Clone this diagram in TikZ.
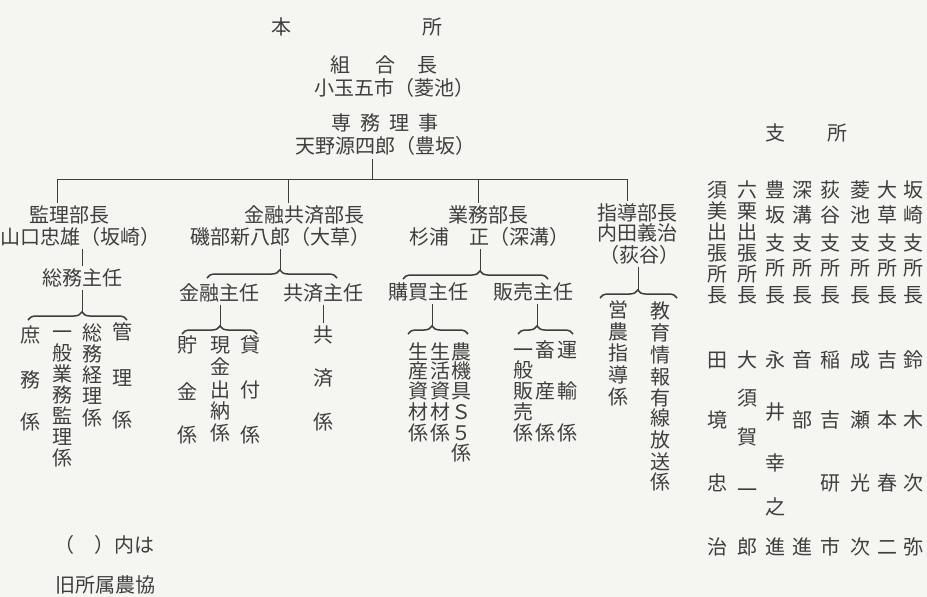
\documentclass[tikz,border=0pt]{standalone}
\usepackage{fontspec}
\newfontfamily\jp{Noto Sans CJK JP}
\usetikzlibrary{decorations.pathreplacing}
\definecolor{paper}{RGB}{245,245,242}
\definecolor{ink}{RGB}{62,62,62}
\newcommand\vcol[3]{\foreach \ch/\yy [count=\i] in {#3} {\node[txt] (#1-\i) at (#2,\yy) {\ch};}}
\begin{document}
\begin{tikzpicture}[x=1pt,y=-1pt,
  txt/.style={font={\jp\fontsize{20}{22}\selectfont}, text=ink, inner sep=0pt, text height=17.6pt, text depth=2.4pt},
  ln/.style={draw=ink, line width=0.8pt},
  bus/.style={draw=ink, line width=0.6pt},
  brc/.style={draw=ink, line width=1.5pt, decorate, decoration={brace, amplitude=8pt, aspect=#1}}]
\fill[paper] (0,0) rectangle (927,597);
\useasboundingbox (0,0) rectangle (927,597);

% ---- head office ----
\node[txt] (honsho) at (357,27) {本\hspace{131pt}所};
\node[txt] (kumiai) at (384,65) {組\hspace{25pt}合\hspace{22pt}長};
\node[txt] (kodama) at (394,88) {小玉五市（菱池）};
\node[txt] (senmu) at (385,123) {専\hspace{9pt}務\hspace{9pt}理\hspace{9pt}事};
\node[txt] (amano) at (385,146) {天野源四郎（豊坂）};

\coordinate (busT) at (372,179);
\coordinate (busL) at (57,179);
\coordinate (bus2) at (288,179);
\coordinate (bus3) at (478,179);
\coordinate (busR) at (627,179);
\draw[ln, shorten <=3pt] (busT |- amano.south) -- (busT);
\draw[bus] (busL) -- (busR);

% ---- departments ----
\node[txt] (d1) at (69,215) {監理部長};
\node[txt] (n1) at (81,237) {山口忠雄（坂崎）};
\node[txt] (d2) at (304,215) {金融共済部長};
\node[txt] (n2) at (280,237) {磯部新八郎（大草）};
\node[txt] (d3) at (488,215) {業務部長};
\node[txt] (n3) at (489,237) {杉浦　正（深溝）};
\node[txt] (d4) at (637,213) {指導部長};
\node[txt] (n4a) at (637,233) {内田義治};
\node[txt] (n4b) at (639,255) {（荻谷）};

\draw[ln, shorten >=2pt] (busL) -- (busL |- d1.north);
\draw[ln, shorten >=2pt] (bus2) -- (bus2 |- d2.north);
\draw[ln, shorten >=2pt] (bus3) -- (bus3 |- d3.north);
\draw[ln, shorten >=2pt] (busR) -- (busR |- d4.north);

% ---- 監理部 ----
\node[txt] (s1) at (82,278) {総務主任};
\draw[ln, shorten <=2pt, shorten >=2pt] (s1.north |- n1.south) -- (s1.north);
\coordinate (b1L) at (28,320); \coordinate (b1R) at (127,320); \coordinate (b1T) at (82,312);
\draw[ln, shorten <=2pt] (b1T |- s1.south) -- (b1T);
\draw[brc=0.545] (b1L) -- (b1R);
\vcol{shomu}{30}{庶/335,務/380,係/422}
\vcol{ippan}{62}{一/332,般/353,業/374,務/395,監/416,理/437,係/458}
\vcol{somu}{92}{総/333,務/354,経/375,理/396,係/418}
\vcol{kanri}{122}{管/332,理/378,係/420}

% ---- 金融共済部 ----
\coordinate (b2L) at (207,278); \coordinate (b2R) at (337,278); \coordinate (b2T) at (280,270);
\draw[ln, shorten <=2pt] (b2T |- n2.south) -- (b2T);
\draw[brc=0.56] (b2L) -- (b2R);
\node[txt] (k1) at (219,293) {金融主任};
\node[txt] (k2) at (323,293) {共済主任};
\coordinate (b3L) at (182,334); \coordinate (b3R) at (257,334); \coordinate (b3T) at (220,326);
\draw[ln, shorten <=2pt] (b3T |- k1.south) -- (b3T);
\draw[brc=0.507] (b3L) -- (b3R);
\vcol{chokin}{187}{貯/345,金/392,係/435}
\vcol{genkin}{220}{現/345,金/367,出/390,納/411,係/433}
\vcol{kashi}{250}{貸/345,付/390,係/435}
\vcol{kyosai}{323}{共/335,済/378,係/422}
\draw[ln, shorten <=2pt, shorten >=2pt] (kyosai-1.north |- k2.south) -- (kyosai-1.north);

% ---- 業務部 ----
\coordinate (b4L) at (403,279); \coordinate (b4R) at (548,279); \coordinate (b4T) at (480,271);
\draw[ln, shorten <=2pt] (b4T |- n3.south) -- (b4T);
\draw[brc=0.531] (b4L) -- (b4R);
\node[txt] (p1) at (428,292) {購買主任};
\node[txt] (p2) at (533,292) {販売主任};
\coordinate (b5L) at (408,334); \coordinate (b5R) at (468,334); \coordinate (b5T) at (432,326);
\draw[ln, shorten <=2pt] (b5T |- p1.south) -- (b5T);
\draw[brc=0.4] (b5L) -- (b5R);
\coordinate (b6L) at (518,334); \coordinate (b6R) at (573,334); \coordinate (b6T) at (537,326);
\draw[ln, shorten <=2pt] (b6T |- p2.south) -- (b6T);
\draw[brc=0.345] (b6L) -- (b6R);
\vcol{seisan}{418}{生/352,産/371,資/391,材/412,係/433}
\vcol{seikatsu}{440}{生/352,活/371,資/391,材/412,係/433}
\vcol{noki}{461}{農/352,機/371,具/391,Ｓ/412,５/433,係/453}
\vcol{hanbai}{523}{一/350,般/370,販/391,売/412,係/433}
\vcol{chiku}{545}{畜/350,産/391,係/433}
\vcol{unyu}{567}{運/350,輸/391,係/433}

% ---- 指導部 ----
\coordinate (b7L) at (600,298); \coordinate (b7R) at (677,298); \coordinate (b7T) at (638,290);
\draw[ln, shorten <=2pt] (b7T |- n4b.south) -- (b7T);
\draw[brc=0.49] (b7L) -- (b7R);
\vcol{einou}{618}{営/310,農/332,指/353,導/375,係/397}
\vcol{kyoiku}{660}{教/311,育/333,情/355,報/377,有/398,線/418,放/440,送/462,係/482}

% ---- branch offices ----
\node[txt] (shisho) at (806,133) {支\hspace{42pt}所};
\vcol{h1}{717}{須/190,美/211,出/232,張/253,所/274,長/295}
\vcol{h2}{747}{六/190,栗/211,出/232,張/253,所/274,長/295}
\vcol{h3}{775}{豊/190,坂/215,支/243,所/268,長/295}
\vcol{h4}{802}{深/190,溝/215,支/243,所/268,長/295}
\vcol{h5}{830}{荻/190,谷/215,支/243,所/268,長/295}
\vcol{h6}{860}{菱/190,池/215,支/243,所/268,長/295}
\vcol{h7}{887}{大/190,草/215,支/243,所/268,長/295}
\vcol{h8}{913}{坂/190,崎/215,支/243,所/268,長/295}

\vcol{m1}{717}{田/360,境/420,忠/483,治/547}
\vcol{m2}{747}{大/360,須/398,賀/437,一/490,郎/547}
\vcol{m3}{775}{永/360,井/412,幸/463,之/507,進/547}
\vcol{m4}{802}{音/360,部/420,進/547}
\vcol{m5}{830}{稲/360,吉/420,研/483,市/547}
\vcol{m6}{860}{成/360,瀬/420,光/483,次/547}
\vcol{m7}{887}{吉/360,本/420,春/483,二/547}
\vcol{m8}{913}{鈴/360,木/420,次/483,弥/547}

% ---- note ----
\node[txt] (note1) at (104,545) {（　）内は};
\node[txt] (note2) at (105,585) {旧所属農協};
\end{tikzpicture}
\end{document}
